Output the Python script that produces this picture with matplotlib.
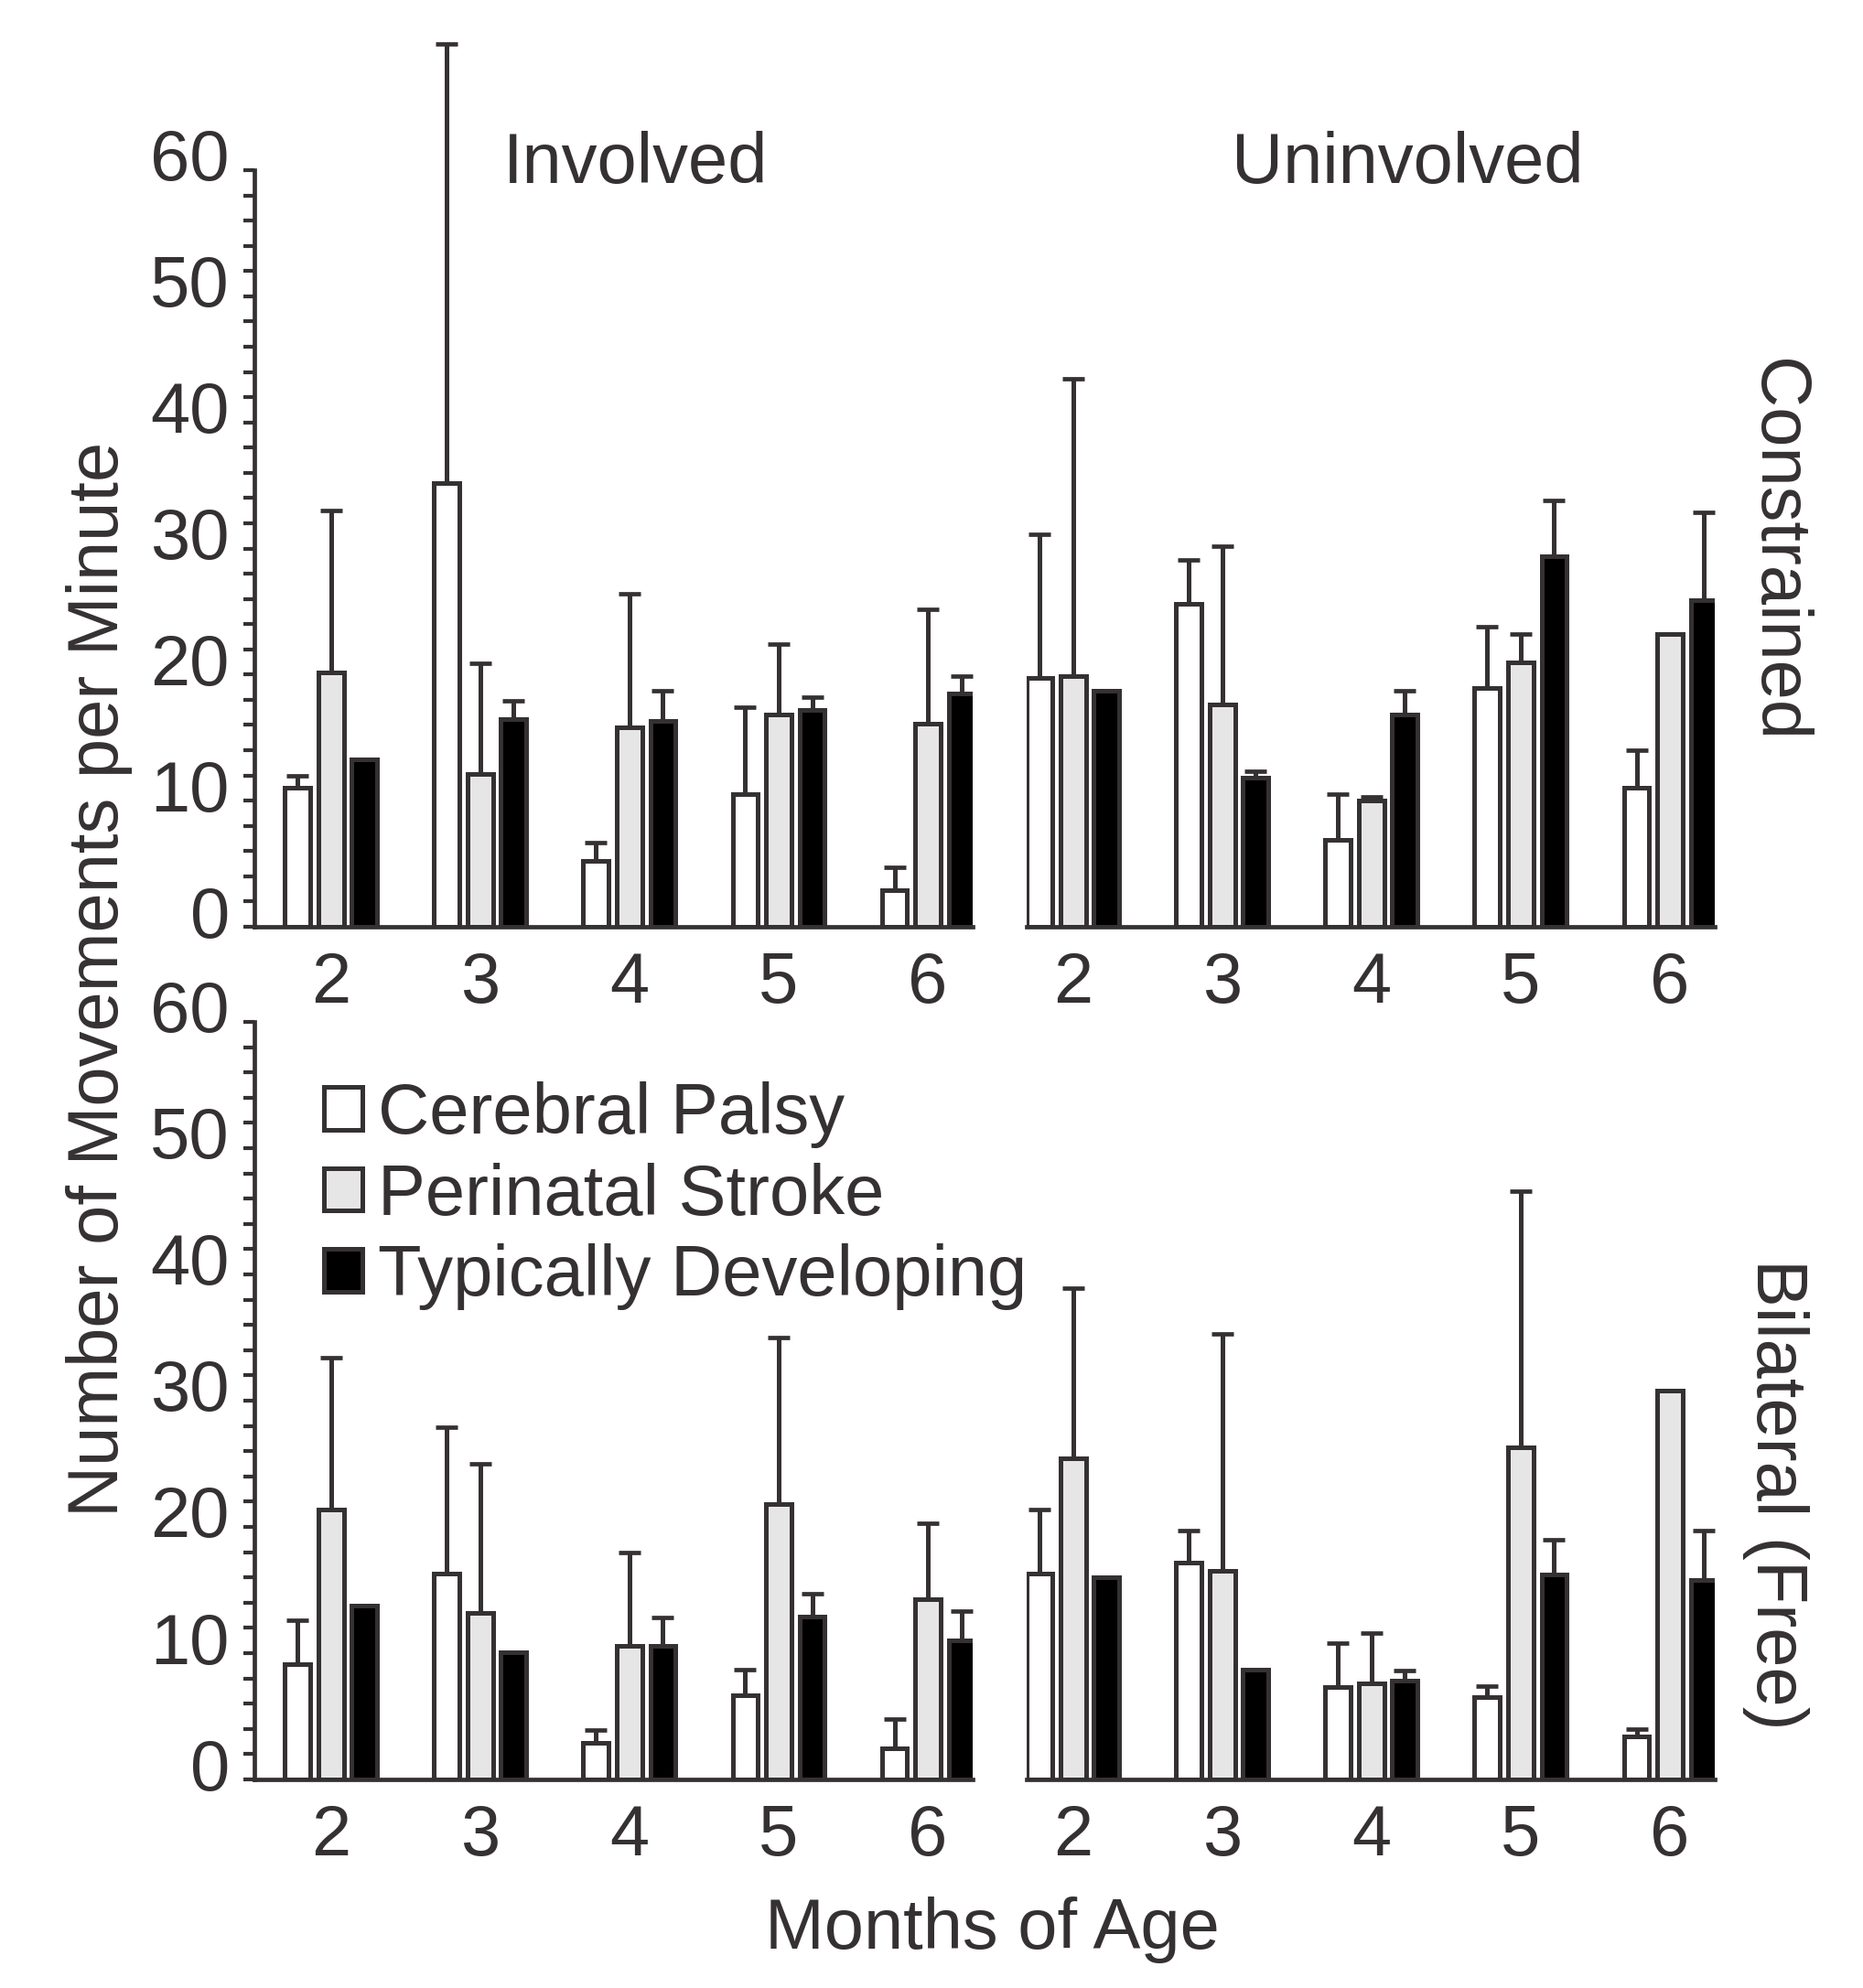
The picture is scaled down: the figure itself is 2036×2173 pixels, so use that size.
import numpy as np
import matplotlib
matplotlib.use("Agg")
import matplotlib.pyplot as plt
from matplotlib.transforms import ScaledTranslation

plt.rcParams['font.family'] = ['Liberation Sans', 'DejaVu Sans']

# ---------------- data ----------------
months = [2, 3, 4, 5, 6]
groups = ['Cerebral Palsy', 'Perinatal Stroke', 'Typically Developing']
y_ticks = [0, 10, 20, 30, 40, 50, 60]

# Constrained – Involved hand
con_inv_cp = [11.0, 35.2, 5.2, 10.5, 2.9]
con_inv_cp_err = [1.0, 34.8, 1.5, 6.9, 1.8]
con_inv_ps = [20.2, 12.1, 15.8, 16.8, 16.1]
con_inv_ps_err = [12.8, 8.8, 10.6, 5.6, 9.1]
con_inv_td = [13.3, 16.45, 16.3, 17.2, 18.5]
con_inv_td_err = [np.nan, 1.45, 2.4, 1.0, 1.4]

# Constrained – Uninvolved hand
con_uni_cp = [19.7, 25.6, 6.9, 18.95, 11.05]
con_uni_cp_err = [11.4, 3.5, 3.6, 4.85, 2.95]
con_uni_ps = [19.9, 17.6, 10.0, 21.0, 23.2]
con_uni_ps_err = [23.55, 12.6, 0.3, 2.2, np.nan]
con_uni_td = [18.7, 11.8, 16.8, 29.4, 25.9]
con_uni_td_err = [np.nan, 0.5, 1.9, 4.4, 7.0]

# Bilateral (Free) – Involved hand
bil_inv_cp = [9.15, 16.3, 2.9, 6.7, 2.5]
bil_inv_cp_err = [3.45, 11.6, 1.0, 2.0, 2.3]
bil_inv_ps = [21.4, 13.2, 10.6, 21.8, 14.3]
bil_inv_ps_err = [12.0, 11.8, 7.4, 13.2, 6.0]
bil_inv_td = [13.8, 10.1, 10.6, 12.9, 11.0]
bil_inv_td_err = [np.nan, np.nan, 2.2, 1.8, 2.3]

# Bilateral (Free) – Uninvolved hand
bil_uni_cp = [16.3, 17.2, 7.3, 6.5, 3.4]
bil_uni_cp_err = [5.1, 2.5, 3.5, 0.9, 0.6]
bil_uni_ps = [25.4, 16.5, 7.6, 26.3, 30.8]
bil_uni_ps_err = [13.5, 18.8, 4.0, 20.3, np.nan]
bil_uni_td = [16.0, 8.7, 7.85, 16.2, 15.8]
bil_uni_td_err = [np.nan, np.nan, 0.75, 2.8, 3.9]

# ---------------- style ----------------
INK = '#353132'
FILLS = ['#ffffff', '#e6e6e6', '#000000']
FS = 56
W, H = 2036, 2173
DPI = 100

fig = plt.figure(figsize=(W / DPI, H / DPI), dpi=DPI)
fig.patch.set_facecolor('white')

def fx(px):
    return px / W

def fy(py):
    return 1 - py / H

left_x = (278, 1063)
right_x = (1122, 1874)
top_y = (186, 1013)
bot_y = (1117, 1945)

def make_ax(xr, yr):
    return fig.add_axes([fx(xr[0]), fy(yr[1]), fx(xr[1] - xr[0]), (yr[1] - yr[0]) / H])

ax_tl = make_ax(left_x, top_y)
ax_tr = make_ax(right_x, top_y)
ax_bl = make_ax(left_x, bot_y)
ax_br = make_ax(right_x, bot_y)

panels = [
    (ax_tl, [con_inv_cp, con_inv_ps, con_inv_td], [con_inv_cp_err, con_inv_ps_err, con_inv_td_err], True),
    (ax_tr, [con_uni_cp, con_uni_ps, con_uni_td], [con_uni_cp_err, con_uni_ps_err, con_uni_td_err], False),
    (ax_bl, [bil_inv_cp, bil_inv_ps, bil_inv_td], [bil_inv_cp_err, bil_inv_ps_err, bil_inv_td_err], True),
    (ax_br, [bil_uni_cp, bil_uni_ps, bil_uni_td], [bil_uni_cp_err, bil_uni_ps_err, bil_uni_td_err], False),
]

bar_w = 0.171
offset = 0.224
x = np.array(months, dtype=float)
bars_for_legend = None

for ax, means, errs, has_y in panels:
    handles = []
    for i, (m, e) in enumerate(zip(means, errs)):
        xi = x + (i - 1) * offset
        b = ax.bar(xi, m, width=bar_w, color=FILLS[i], edgecolor=INK,
                   linewidth=3.6, label=groups[i], zorder=2)
        handles.append(b)
        m_arr = np.array(m, dtype=float)
        e_arr = np.array(e, dtype=float)
        ok = ~np.isnan(e_arr)
        _, caps, _ = ax.errorbar(xi[ok], m_arr[ok], yerr=[np.zeros(ok.sum()), e_arr[ok]],
                                 fmt='none', ecolor=INK, elinewidth=3.6, capsize=8.3,
                                 capthick=3.4, clip_on=False, zorder=3)
        for c in caps:
            c.set_clip_on(False)
            yd = np.asarray(c.get_ydata(), dtype=float)
            if np.allclose(yd, m_arr[ok]):
                c.set_visible(False)
    if bars_for_legend is None:
        bars_for_legend = handles
    ax.set_ylim(0, 60)
    if has_y:
        ax.set_xlim(1.486, 6.30)
    else:
        ax.set_xlim(1.69, 6.30)
    ax.set_facecolor('none')
    for s in ['top', 'right']:
        ax.spines[s].set_visible(False)
    ax.spines['bottom'].set_color(INK)
    ax.spines['bottom'].set_linewidth(3.4)
    ax.set_xticks(months)
    ax.set_xticklabels([str(mo) for mo in months])
    ax.tick_params(axis='x', length=0, pad=19, labelsize=FS, labelcolor=INK)
    if has_y:
        ax.spines['left'].set_color(INK)
        ax.spines['left'].set_linewidth(3.4)
        ax.set_yticks(y_ticks)
        ax.set_yticks(np.arange(0, 61, 2), minor=True)
        ax.set_yticklabels([str(t) for t in y_ticks])
        ax.tick_params(axis='y', which='both', direction='out', length=8.6,
                       width=3.0, color=INK)
        ax.tick_params(axis='y', which='major', pad=11, labelsize=FS, labelcolor=INK)
        shift = ScaledTranslation(0, 0.17, fig.dpi_scale_trans)
        for lab in ax.get_yticklabels():
            lab.set_transform(lab.get_transform() + shift)
    else:
        ax.spines['left'].set_visible(False)
        ax.set_yticks([])

# legend
ax_bl.legend(handles=bars_for_legend, labels=groups, loc='upper left',
             bbox_to_anchor=(fx(354), fy(1182)), bbox_transform=fig.transFigure,
             frameon=False, fontsize=FS, handlelength=0.54, handleheight=0.54,
             handletextpad=0.22, labelspacing=0.2, borderpad=0, borderaxespad=0,
             labelcolor=INK)

# text labels
fig.text(fx(695), fy(180), 'Involved', ha='center', va='center', fontsize=FS, color=INK)
fig.text(fx(1538), fy(180), 'Uninvolved', ha='center', va='center', fontsize=FS, color=INK)
fig.text(fx(109), fy(1070), 'Number of Movements per Minute', ha='center', va='center',
         rotation=90, fontsize=FS, color=INK)
fig.text(fx(1084), fy(2110), 'Months of Age', ha='center', va='center', fontsize=FS, color=INK)
fig.text(fx(1941), fy(602), 'Constrained', ha='center', va='center', rotation=-90,
         fontsize=FS, color=INK)
fig.text(fx(1941), fy(1633), 'Bilateral (Free)', ha='center', va='center', rotation=-90,
         fontsize=FS, color=INK)

fig.savefig('out.png', dpi=DPI, facecolor='white')
